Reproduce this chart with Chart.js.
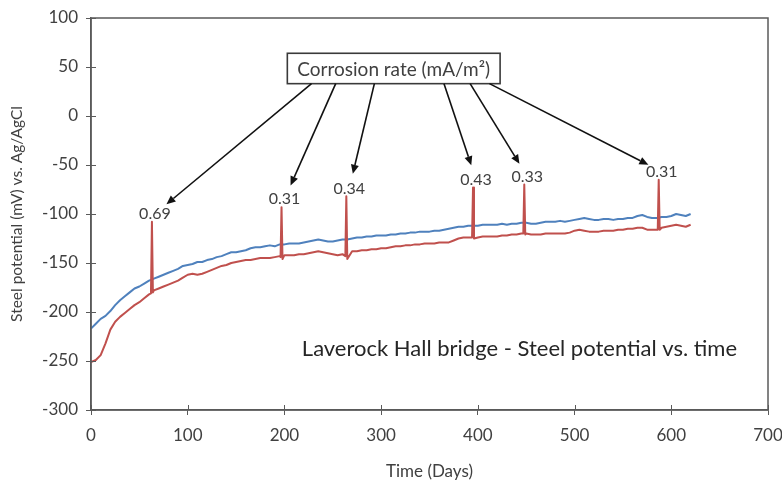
<!DOCTYPE html>
<html><head><meta charset="utf-8">
<script src="https://cdn.jsdelivr.net/npm/chart.js@4/dist/chart.umd.min.js"></script>
<style>html,body{margin:0;padding:0;background:#fff;}#wrap{width:782px;height:485px;}</style>
</head><body><div id="wrap"><canvas id="c" width="782" height="485"></canvas></div>
<script>
// ---- data ----
const blueDays = [0,5,10,15,20,25,30,35,40,45,50,55,60,65,70,75,80,85,90,95,100,105,110,115,120,125,130,135,140,145,150,155,160,165,170,175,180,185,190,195,200,205,210,215,220,225,230,235,240,245,250,255,260,265,270,275,280,285,290,295,300,305,310,315,320,325,330,335,340,345,350,355,360,365,370,375,380,385,390,395,400,405,410,415,420,425,430,435,440,445,450,455,460,465,470,475,480,485,490,495,500,505,510,515,520,525,530,535,540,545,550,555,560,565,570,575,580,585,590,595,600,605,610,615,620];
const bluePotential = [-217,-212,-207,-204,-199,-193,-188,-184,-180,-176,-174,-171,-168,-166,-164,-162,-160,-158,-156,-153,-152,-151,-149,-149,-147,-146,-144,-143,-141,-139,-139,-138,-137,-135,-134,-134,-133,-132,-133,-131,-131,-130,-130,-130,-129,-128,-127,-126,-127,-128,-128,-127,-126,-126,-125,-124,-124,-123,-123,-122,-122,-122,-121,-121,-120,-120,-119,-119,-118,-118,-118,-117,-117,-116,-115,-114,-113,-113,-112,-112,-112,-111,-111,-111,-111,-110,-111,-110,-110,-109,-109,-110,-110,-109,-108,-108,-108,-107,-108,-107,-106,-105,-104,-105,-106,-106,-105,-105,-106,-105,-105,-104,-104,-102,-101,-103,-104,-104,-103,-103,-102,-100,-101,-102,-100];
const redDays = [0,5,10,15,20,25,30,35,40,45,50,55,60,62,63,64,65,70,75,80,85,90,95,100,105,110,115,120,125,130,135,140,145,150,155,160,165,170,175,180,185,190,195,196,197,198,200,205,210,215,220,225,230,235,240,245,250,255,260,263,264,265,270,275,280,285,290,295,300,305,310,315,320,325,330,335,340,345,350,355,360,365,370,375,380,385,390,394,395,396,400,405,410,415,420,425,430,435,440,445,447,448,449,450,455,460,465,470,475,480,485,490,495,500,505,510,515,520,525,530,535,540,545,550,555,560,565,570,575,580,585,586,587,588,590,595,600,605,610,615,620];
const redPotential = [-251,-249,-244,-232,-218,-210,-205,-201,-197,-193,-190,-186,-182,-181,-108,-180,-178,-176,-174,-172,-170,-168,-165,-162,-161,-162,-161,-159,-157,-155,-153,-152,-150,-149,-148,-147,-147,-146,-145,-145,-145,-144,-143,-144,-93,-146,-142,-142,-142,-141,-141,-140,-139,-138,-139,-140,-141,-142,-141,-143,-82,-146,-138,-138,-137,-137,-136,-136,-135,-135,-134,-133,-133,-132,-132,-131,-131,-130,-130,-130,-129,-129,-129,-127,-125,-124,-124,-124,-73,-125,-124,-123,-123,-123,-123,-122,-122,-121,-121,-120,-120,-70,-121,-120,-121,-121,-121,-120,-120,-120,-120,-120,-119,-117,-116,-117,-118,-118,-118,-117,-117,-117,-116,-116,-115,-115,-114,-114,-116,-116,-116,-116,-65,-116,-114,-113,-112,-111,-112,-113,-111];
const spikeDays = [63,197,264,395,448,587];
const spikeTops = [-108,-93,-82,-73,-70,-65];
const corrosionRates = ['0.69','0.31','0.34','0.43','0.33','0.31'];
const xTickValues = [0,100,200,300,400,500,600,700];
const yTickValues = [-300,-250,-200,-150,-100,-50,0,50,100];
const boxLabel = 'Corrosion rate (mA/m\u00B2)';
const chartNote = 'Laverock Hall bridge - Steel potential vs. time';

// annotation placement (data units)
const annot = { boxDay0: 203, boxDay1: 423, boxTop: 64, boxBottom: 33, arrowStartDays: [228,253,293,365,392,412], noteDay: 668, noteValue: -238 };

const FONT = 'Lato';
const TXT = '#404040';
const AX = '#5a5a5a';

const toXY = (xs, ys) => xs.map((x, i) => ({x: x, y: ys[i]}));

const overlay = {
  id: 'overlay',
  afterDatasetsDraw(chart) {
    const {ctx, chartArea: a, scales: {x, y}} = chart;
    ctx.save();
    ctx.strokeStyle = AX; ctx.lineWidth = 1.5;
    ctx.strokeRect(a.left, a.top, a.right - a.left, a.bottom - a.top);
    ctx.lineWidth = 1;
    ctx.beginPath();
    xTickValues.forEach(v => { const px = Math.round(x.getPixelForValue(v)) + 0.5; ctx.moveTo(px, a.bottom); ctx.lineTo(px, a.bottom - 5); });
    yTickValues.forEach(v => { const py = Math.round(y.getPixelForValue(v)) + 0.5; ctx.moveTo(a.left, py); ctx.lineTo(a.left + 5, py); });
    ctx.stroke();
    ctx.fillStyle = TXT; ctx.font = '16px ' + FONT; ctx.textAlign = 'center'; ctx.textBaseline = 'middle';
    const labelPos = spikeDays.map((d, i) => ({ x: x.getPixelForValue(d) + 3, y: y.getPixelForValue(spikeTops[i]) - 8 }));
    labelPos.forEach((p, i) => ctx.fillText(corrosionRates[i], p.x, p.y));
    const bx0 = x.getPixelForValue(annot.boxDay0), bx1 = x.getPixelForValue(annot.boxDay1);
    const by0 = y.getPixelForValue(annot.boxTop), by1 = y.getPixelForValue(annot.boxBottom);
    ctx.fillStyle = '#fff'; ctx.fillRect(bx0, by0, bx1 - bx0, by1 - by0);
    ctx.strokeStyle = '#3a3a3a'; ctx.lineWidth = 1.6; ctx.strokeRect(bx0, by0, bx1 - bx0, by1 - by0);
    ctx.fillStyle = TXT; ctx.font = '19px ' + FONT;
    ctx.fillText(boxLabel, (bx0 + bx1) / 2, (by0 + by1) / 2 + 1);
    ctx.strokeStyle = '#111'; ctx.fillStyle = '#111'; ctx.lineWidth = 1.6;
    annot.arrowStartDays.forEach((d, i) => {
      const sx = x.getPixelForValue(d), sy = by1;
      const lp = labelPos[i];
      let dx = sx - lp.x, dy = sy - lp.y; const L = Math.hypot(dx, dy); dx /= L; dy /= L;
      const tx = lp.x + dx * 15, ty = lp.y + dy * 15;
      const ux = -dx, uy = -dy;
      const hl = 9, hw = 4;
      const bxp = tx - ux * hl, byp = ty - uy * hl;
      ctx.beginPath(); ctx.moveTo(sx, sy); ctx.lineTo(bxp, byp); ctx.stroke();
      ctx.beginPath(); ctx.moveTo(tx, ty);
      ctx.lineTo(bxp - uy * hw, byp + ux * hw); ctx.lineTo(bxp + uy * hw, byp - ux * hw); ctx.closePath(); ctx.fill();
    });
    ctx.fillStyle = '#262626'; ctx.font = '22px ' + FONT; ctx.textAlign = 'right';
    ctx.fillText(chartNote, x.getPixelForValue(annot.noteDay), y.getPixelForValue(annot.noteValue));
    ctx.restore();
  }
};

new Chart(document.getElementById('c'), {
  type: 'line',
  data: {
    datasets: [
      { label: 'red', data: toXY(redDays, redPotential), borderColor: '#c0504d', borderWidth: 2, pointRadius: 0, tension: 0, borderJoinStyle: 'round', order: 0 },
      { label: 'blue', data: toXY(blueDays, bluePotential), borderColor: '#4f81bd', borderWidth: 2, pointRadius: 0, tension: 0, borderJoinStyle: 'round', order: 1 }
    ]
  },
  options: {
    responsive: false, animation: false,
    layout: { padding: { left: 0, right: 14, top: 18, bottom: 0 } },
    plugins: { legend: { display: false }, tooltip: { enabled: false } },
    scales: {
      x: {
        type: 'linear', min: 0, max: 700,
        afterBuildTicks: s => { s.ticks = xTickValues.map(v => ({ value: v })); },
        grid: { drawOnChartArea: false, drawTicks: true, tickLength: 5, color: AX },
        border: { display: true, color: AX, width: 1.5 },
        ticks: { color: TXT, font: { family: FONT, size: 17 }, padding: 10, maxRotation: 0 },
        title: { display: true, text: 'Time (Days)', color: TXT, font: { family: FONT, size: 17 }, padding: { top: 4, bottom: 3 } },
        afterFit: s => { s.height = 75; s.paddingLeft = 0; s.paddingRight = 0; }
      },
      y: {
        min: -300, max: 100,
        afterBuildTicks: s => { s.ticks = yTickValues.map(v => ({ value: v })); },
        grid: { drawOnChartArea: false, drawTicks: true, tickLength: 5, color: AX },
        border: { display: true, color: AX, width: 1.5 },
        ticks: { color: TXT, font: { family: FONT, size: 17 }, padding: 8 },
        title: { display: true, text: 'Steel potential (mV) vs. Ag/AgCl', color: TXT, font: { family: FONT, size: 15.5 }, padding: { top: 8, bottom: 4 } },
        afterFit: s => { s.width = 91; s.paddingTop = 0; s.paddingBottom = 0; }
      }
    }
  },
  plugins: [overlay]
});
</script></body></html>
